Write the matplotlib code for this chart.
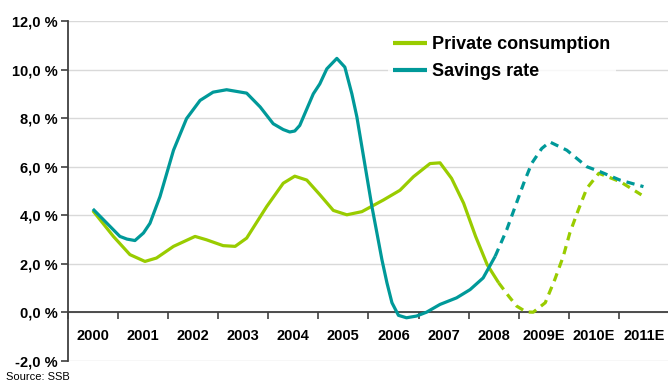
import matplotlib
matplotlib.use("Agg")
import matplotlib.pyplot as plt
from matplotlib.ticker import FixedLocator

# ---- data (x = year position, 0 = 2000) ----
categories = ["2000", "2001", "2002", "2003", "2004", "2005", "2006",
              "2007", "2008", "2009E", "2010E", "2011E"]
yticks = [-2, 0, 2, 4, 6, 8, 10, 12]
ytick_labels = ["-2,0 %", "0,0 %", "2,0 %", "4,0 %", "6,0 %", "8,0 %", "10,0 %", "12,0 %"]

sav_x = [0.00, 0.54, 0.68, 0.84, 1.01, 1.14, 1.34, 1.61, 1.87, 2.14, 2.40, 2.67, 3.07, 3.34,
         3.60, 3.80, 3.93, 4.03, 4.13, 4.40, 4.53, 4.67, 4.87, 5.03, 5.17, 5.27, 5.37, 5.47,
         5.57, 5.67, 5.77, 5.87, 5.97, 6.10, 6.26, 6.46, 6.66, 6.93, 7.26, 7.53, 7.79, 8.03]
sav_y = [4.26, 3.13, 3.02, 2.96, 3.27, 3.67, 4.77, 6.68, 7.98, 8.73, 9.07, 9.17, 9.03, 8.46,
         7.77, 7.53, 7.43, 7.47, 7.70, 9.00, 9.41, 10.03, 10.46, 10.10, 9.00, 8.05, 6.82, 5.59,
         4.36, 3.27, 2.17, 1.22, 0.40, -0.12, -0.22, -0.15, 0.01, 0.33, 0.60, 0.94, 1.42, 2.31]
sav_fx = [8.03, 8.26, 8.43, 8.60, 8.76, 8.96, 9.12, 9.46, 9.86, 10.13, 10.52, 10.99]
sav_fy = [2.31, 3.40, 4.36, 5.32, 6.14, 6.75, 7.02, 6.68, 6.00, 5.79, 5.45, 5.18]

cons_x = [0.00, 0.41, 0.74, 1.04, 1.27, 1.61, 2.04, 2.27, 2.60, 2.84, 3.07, 3.47,
          3.80, 4.03, 4.27, 4.53, 4.80, 5.07, 5.37, 5.80, 6.13, 6.40, 6.73, 6.93,
          7.16, 7.40, 7.64, 7.87, 8.10]
cons_y = [4.19, 3.13, 2.38, 2.10, 2.24, 2.72, 3.13, 2.99, 2.75, 2.72, 3.06, 4.36,
          5.32, 5.61, 5.45, 4.85, 4.20, 4.02, 4.15, 4.63, 5.03, 5.59, 6.13, 6.16,
          5.52, 4.50, 3.13, 1.97, 1.22]
cons_fx = [8.10, 8.30, 8.46, 8.65, 8.79, 9.03, 9.22, 9.39, 9.52, 9.69, 9.86, 10.10, 10.53, 10.95]
cons_fy = [1.22, 0.67, 0.26, 0.02, 0.01, 0.40, 1.35, 2.31, 3.27, 4.22, 5.11, 5.73, 5.38, 4.84]

GREEN = "#99cc00"
TEAL = "#009999"
FONT = "Liberation Sans"

fig = plt.figure(figsize=(6.68, 3.85), dpi=100)
ax = fig.add_axes([67.8 / 668, 24 / 385, (669 - 67.8) / 668, (361 - 21) / 385])
ax.set_xlim(-0.5, 11.5)
ax.set_ylim(-2, 12)

for v in yticks:
    ax.axhline(v, color="#d9d9d9", lw=1.0, zorder=0)

lw = 2.3
ax.plot(cons_x, cons_y, color=GREEN, lw=lw, solid_joinstyle="round",
        solid_capstyle="butt", label="Private consumption", zorder=3)
ax.plot(cons_fx, cons_fy, color=GREEN, lw=lw, linestyle=(0, (2.6, 1.9)), zorder=3)
ax.plot(sav_x, sav_y, color=TEAL, lw=lw, solid_joinstyle="round",
        solid_capstyle="butt", label="Savings rate", zorder=4)
ax.plot(sav_fx, sav_fy, color=TEAL, lw=lw, linestyle=(0, (2.6, 1.9)), zorder=4)

# axes styling
for s in ["top", "right"]:
    ax.spines[s].set_visible(False)
ax.spines["bottom"].set_position(("data", 0))
ax.spines["bottom"].set_color("#404040")
ax.spines["left"].set_color("#404040")
ax.spines["bottom"].set_linewidth(1.3)
ax.spines["left"].set_linewidth(1.3)

ax.set_yticks(yticks)
ax.set_yticklabels(ytick_labels, fontfamily=FONT, fontweight="bold", fontsize=10.5)
ax.tick_params(axis="y", length=5, width=1.2, color="#404040", pad=2)

ax.set_xticks(range(len(categories)))
ax.set_xticklabels(categories, fontfamily=FONT, fontweight="bold", fontsize=10.5)
ax.tick_params(axis="x", which="major", length=0, pad=12)
ax.xaxis.set_minor_locator(FixedLocator([i + 0.5 for i in range(-1, 12)]))
ax.tick_params(axis="x", which="minor", length=5, width=1.2, color="#404040", direction="out")

leg = ax.legend(loc="upper left", bbox_to_anchor=(0.5233, 0.988),
                prop={"family": FONT, "weight": "bold", "size": 13},
                frameon=True, facecolor="white", edgecolor="none", fancybox=False,
                handlelength=1.85, handletextpad=0.3, labelspacing=0.55,
                borderpad=0.3, borderaxespad=0.3)
for h in leg.legend_handles:
    h.set_linewidth(3)
leg.set_zorder(5)

fig.text(6 / 668, 1 - 380 / 385, "Source: SSB", fontfamily=FONT, fontsize=8,
         va="baseline", ha="left")

fig.savefig("out.png", dpi=100)
